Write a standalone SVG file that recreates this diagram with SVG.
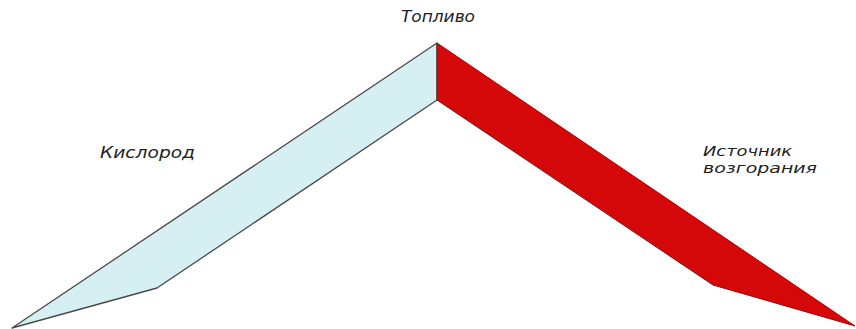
<svg xmlns="http://www.w3.org/2000/svg" width="856" height="329" viewBox="0 0 856 329">
<style>
.lbl{font-family:"DejaVu Sans","Liberation Sans",sans-serif;font-style:italic;font-size:15px;fill:#222}
.sm{font-size:14px}
</style>
<rect width="856" height="329" fill="#ffffff"/>
<g id="oxygen">
<polygon points="437,43 437,100 157,288 12,328" fill="#d5eff3" stroke="#4a4a4a" stroke-width="1.3" stroke-linejoin="round"/>
<text class="lbl" x="100" y="158" textLength="95" lengthAdjust="spacingAndGlyphs">Кислород</text>
</g>
<g id="ignition">
<polygon points="437,43 437,100 713,285 855,326" fill="#d40808" stroke="#9a0a0a" stroke-width="1" stroke-linejoin="round"/>
<text class="lbl sm" x="703" y="156" textLength="89" lengthAdjust="spacingAndGlyphs">Источник</text>
<text class="lbl sm" x="703" y="173" textLength="114" lengthAdjust="spacingAndGlyphs">возгорания</text>
</g>
<g id="fuel">
<text class="lbl" x="401" y="22" textLength="74" lengthAdjust="spacingAndGlyphs">Топливо</text>
</g>
<g id="connectors"></g>
</svg>
